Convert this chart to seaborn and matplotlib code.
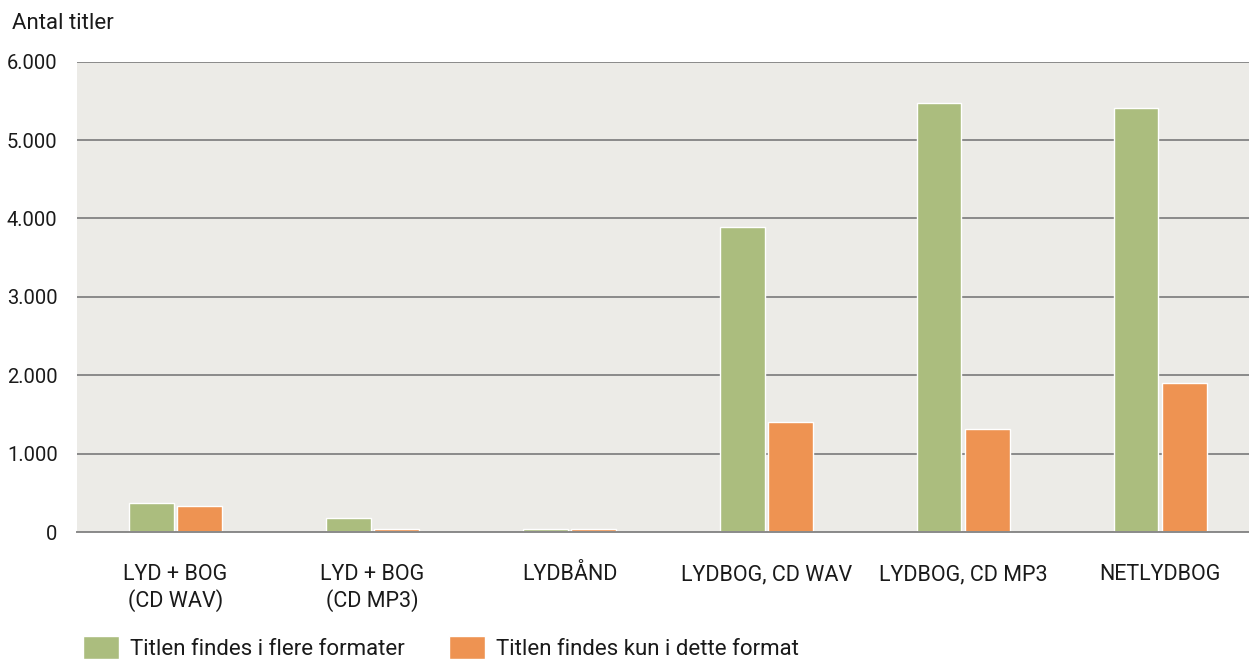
import pandas as pd
import seaborn as sns
import matplotlib.pyplot as plt
from matplotlib.ticker import FuncFormatter

formats = ['LYD + BOG\n(CD WAV)', 'LYD + BOG\n(CD MP3)', 'LYDBÅND',
           'LYDBOG, CD WAV', 'LYDBOG, CD MP3', 'NETLYDBOG']
series_names = ['Titlen findes i flere formater', 'Titlen findes kun i dette format']
flere = [370, 179, 42, 3895, 5479, 5415]
kun = [332, 38, 35, 1405, 1315, 1903]
yticks = [0, 1000, 2000, 3000, 4000, 5000, 6000]

df = pd.DataFrame({
    'Format': formats * 2,
    'Serie': [series_names[0]] * len(formats) + [series_names[1]] * len(formats),
    'Antal': flere + kun,
})

sns.set_style('white')
plt.rcParams['font.family'] = ['Roboto', 'DejaVu Sans']

fig = plt.figure(figsize=(12.49, 6.59), dpi=100)
ax = fig.add_axes([0.0617, 0.1927, 0.9383, 0.7137])
ax.set_facecolor('#ecebe7')

palette = {series_names[0]: '#abbd7e', series_names[1]: '#ee9352'}
sns.barplot(data=df, x='Format', y='Antal', hue='Serie', palette=palette,
            width=0.49, gap=0.08, saturation=1, ax=ax, zorder=3)

ax.set_ylim(0, 6000)
ax.set_xlim(-0.5, 5.45)
ax.set_yticks(yticks)
ax.yaxis.set_major_formatter(FuncFormatter(lambda v, p: f'{int(v):,}'.replace(',', '.')))
ax.grid(axis='y', color='#8a8a8a', linewidth=1.4, zorder=1)
ax.set_axisbelow(True)
for s in ['top', 'right', 'left']:
    ax.spines[s].set_visible(False)
ax.spines['bottom'].set_color('#8a8a8a')
ax.spines['bottom'].set_linewidth(1.4)
ax.spines['bottom'].set_zorder(4)

ax.tick_params(axis='x', direction='out', length=12, width=1.2, color='#8a8a8a',
               pad=11, labelsize=15.5, labelcolor='#1a1a1a')
ax.tick_params(axis='y', length=0, pad=14, labelsize=14.5, labelcolor='#1a1a1a')
ax.set_xlabel('')
ax.set_ylabel('')

fig.text(0.0096, 0.965, 'Antal titler', fontsize=16, color='#1a1a1a', va='center', ha='left')

handles, labels = ax.get_legend_handles_labels()
ax.get_legend().remove()
fig.legend(handles, labels, loc='center left', bbox_to_anchor=(83 / 1249, 11 / 659), ncol=2,
           frameon=False, fontsize=16, handlelength=1.62, handleheight=1.2,
           handletextpad=0.5, columnspacing=2.0, borderpad=0, borderaxespad=0,
           labelcolor='#1a1a1a')

fig.savefig('out.png', dpi=100)
